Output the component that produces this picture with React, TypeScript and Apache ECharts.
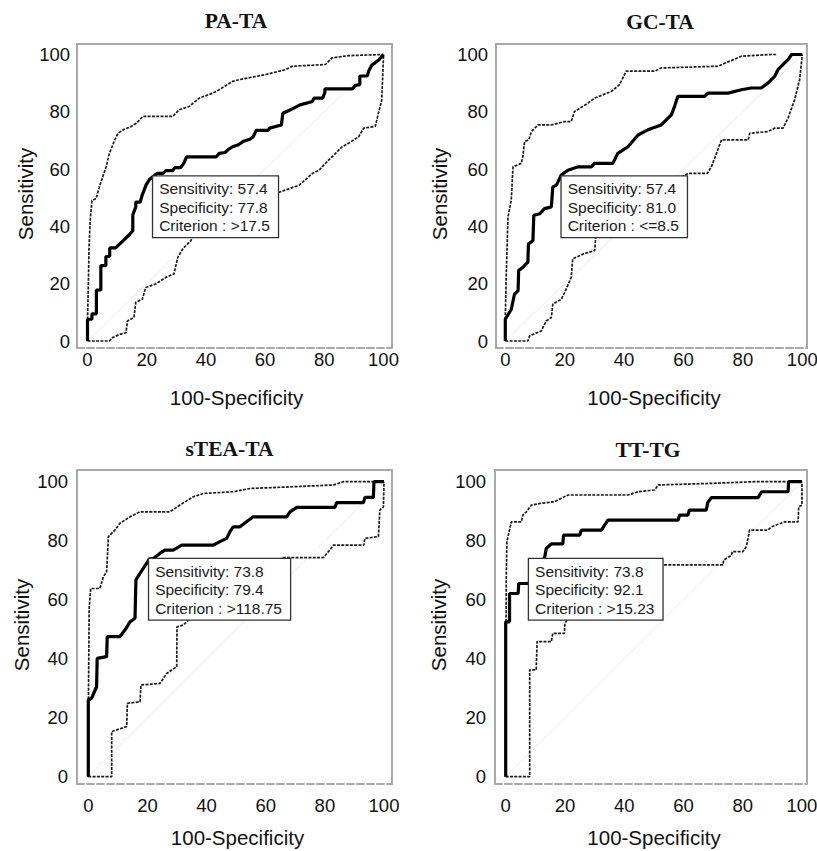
import React, { useEffect, useRef } from 'react';
import * as echarts from 'echarts';

// ---------- data ----------
const tickValues = [0, 20, 40, 60, 80, 100];
const panelTitles = ['PA-TA', 'GC-TA', 'sTEA-TA', 'TT-TG'];
const xAxisTitle = '100-Specificity';
const yAxisTitle = 'Sensitivity';

const criterionSensitivity = [57.4, 57.4, 73.8, 73.8];
const criterionSpecificity = [77.8, 81.0, 79.4, 92.1];
const criterionValue = ['>17.5', '<=8.5', '>118.75', '>15.23'];

const diagonal = [[0, 0], [100, 100]];

const paTaMain = [[0,0],[0,7.6],[1.5,7.6],[1.5,9.5],[3,9.5],[3,17.8],[4.5,17.8],[4.5,26.3],[6.2,26.3],[6.2,29.5],[7.5,29.5],[7.5,32.5],[9.5,32.5],[11,34],[12.5,35.5],[14,37],[15.3,38.5],[15.3,44],[16.3,46.8],[16.3,48.5],[17.8,48.5],[18.5,51],[19.8,54.5],[21,56.5],[22.2,57.4],[23.5,58.5],[25.5,58.5],[26.5,59.5],[28.8,59.5],[29.5,60.5],[31.5,60.5],[32.5,62],[33.5,64.3],[43.5,64.3],[44.5,65.5],[46.5,65.8],[47.5,66.8],[49,67.8],[51,68.5],[52.5,69.6],[55,70.5],[56,71.3],[57,73.5],[61,73.5],[61.5,74.3],[65.5,75.4],[66,79.5],[68.4,80.6],[71.8,82.4],[76,83.6],[76.5,84.8],[79.5,84.8],[80.2,86.8],[80.2,88],[89.5,88],[90.5,89.2],[92,89.5],[92,92.5],[94.5,92.5],[95,94.2],[96,96.2],[98.5,98.2],[100,100]];
const paTaUpper = [[0,0],[0,8],[0.3,20],[0.5,32],[0.9,42],[1.5,49],[2.9,49.7],[4,53.8],[6.3,60.8],[7.4,65.5],[9.2,70.2],[10.3,72.5],[12,73.7],[14.8,74.9],[16.5,76],[18.7,78.4],[28.8,78.4],[31,80.7],[34.4,81.9],[37.8,84.8],[42.3,86.5],[44.5,87.7],[49,90.6],[51.2,91.2],[60.2,93],[66.9,94.7],[69.2,95.9],[80.4,96.5],[82.6,98.8],[88.2,99.6],[100,100]];
const paTaLower = [[0,0],[7.4,0],[8.5,1.2],[10.8,2.3],[13,2.9],[13.5,7],[15.7,8.2],[16.3,13.5],[18.5,14.6],[19.7,18.7],[23,19.9],[26.5,22.2],[29.2,23.4],[30.5,29.2],[32.2,32.2],[35,35.1],[35.5,38.6],[36.7,42.7],[40,45],[44.5,46.8],[49,49.1],[58,49.7],[63.7,51.5],[68.2,53.2],[71.5,54.4],[76,58.5],[78.2,59.6],[81.5,63.2],[83.8,65.5],[86,67.8],[88.2,69],[91.6,71.3],[93.3,74.3],[97.2,74.9],[98.3,79.5],[99.4,84],[100,99.4],[100,100]];

const gcTaMain = [[0,0],[0,7.6],[2,11],[3.1,16.4],[4.3,17.5],[4.5,24.6],[5.9,25.7],[7.6,27.5],[7.8,33.9],[9.3,35],[9.6,43.9],[11.6,44.4],[13.2,46.2],[15.5,46.8],[16,53.8],[17.2,54.4],[18.9,58],[21.1,59.6],[24.5,60.8],[29,60.8],[30,62],[36.2,62],[37.9,65.5],[41.3,67.8],[44.7,71.9],[48,73.7],[52.5,75.4],[55.9,78.9],[57,81.9],[58.1,85.4],[67.1,85.4],[68.2,86.5],[75,86.5],[79.5,87.7],[82.8,88.3],[86.2,88.3],[88.4,90],[90.7,92.4],[91.8,94.7],[93.5,96.5],[95.2,98.2],[96.4,100],[100,100]];
const gcTaUpper = [[0,0],[0,8],[0.3,22.2],[0.9,43.3],[2,49.1],[2.6,60.8],[5.4,62],[5.9,64.3],[6.5,69.6],[7.9,70.2],[8.8,73.1],[11,75.4],[15.5,75.4],[20,76.6],[22.2,76.6],[23.3,80.1],[27.8,83],[30.1,84.8],[35.7,87.1],[38.5,89.5],[40.7,94.2],[50.3,94.2],[52.5,95.3],[71.6,95.9],[79.5,99.4],[89.6,100],[91.2,100]];
const gcTaLower = [[0,0],[7.6,0],[8.2,1.8],[12.1,3.5],[13.8,7],[15.5,8.2],[16,12.9],[18.9,14.6],[20.5,18.1],[22.2,22.2],[22.7,28.7],[26.3,30.4],[30.1,31.6],[30.6,38.6],[33,45],[38,50],[45,54],[50,55.5],[55,56.5],[60,57.5],[61.5,58.5],[68,58.5],[69.4,60.8],[72.8,70.2],[81.8,70.2],[82.3,72.5],[88.4,73.1],[90.7,74.3],[93.5,74.3],[95.2,77.8],[97.4,84.2],[99.1,91.2],[100,100]];

const steaTaMain = [[0,0],[0,26],[1.1,26.6],[2.8,30.5],[3,40.1],[6.2,40.7],[6.4,47.5],[10.7,47.5],[12.4,49.7],[14.1,52.5],[15.8,53.7],[16.1,66.7],[17.5,68.9],[19.7,72.3],[20.6,73.8],[22,74],[24.2,75.7],[25.9,76.8],[28.7,76.8],[31.6,78.5],[42.3,78.5],[44.5,79.7],[46.8,80.8],[47.9,83.1],[49,84.7],[51.3,84.7],[53.5,86.4],[55.8,88.1],[67.1,88.1],[68.2,89.8],[70.5,91.3],[83.4,91.3],[84,92.9],[93,92.9],[93.6,94.7],[96.4,94.7],[96.6,100],[100,100]];
const steaTaUpper = [[0,0],[0,20],[0.3,57],[0.8,63.8],[3.9,63.8],[5.1,67.8],[6.2,69.5],[6.8,81.4],[9,83.6],[10.7,85.9],[14.1,88.1],[17.5,89.8],[27.6,89.8],[31,92.1],[35.5,94.9],[38.9,96],[49,96.6],[54.7,97.7],[69.3,98.3],[82.9,98.9],[86.2,100],[100,100]];
const steaTaLower = [[0,0],[7.9,0],[7.9,15.3],[13,17],[13.2,24.9],[17.5,25.4],[17.8,31.1],[24.2,31.6],[26.5,35],[29.9,37.3],[30,50.8],[32.1,51.4],[38,57],[45,63],[55,70],[60,72],[64,73.5],[66,74.3],[79.5,74.3],[81.2,76.3],[82.9,78.5],[93.2,78.5],[93.5,80.8],[98.1,81.4],[98.6,90.4],[99.8,91.5],[100,100]];

const ttTgMain = [[0,0],[0,52.5],[1.3,52.5],[1.3,62.1],[4.2,62.1],[4.4,65.5],[7.5,65.5],[9.5,67],[11,70],[12.5,73],[13.2,74.6],[13.7,77.4],[15.4,78.9],[19.3,78.9],[19.5,81.9],[25,81.9],[25.5,83.6],[32.3,83.6],[33.4,85.3],[34.5,87],[58.2,87],[58.7,88.7],[61.5,88.7],[62,90.4],[67.7,90.4],[68.2,92.9],[69.4,94.6],[85.2,94.6],[86.4,96.6],[95.3,96.6],[95.5,100],[100,100]];
const ttTgUpper = [[0,0],[0,20],[0.2,67.8],[0.4,79.7],[1.9,86.4],[5.3,86.4],[5.8,88.7],[7,89.8],[8.7,92.1],[12,92.7],[16.5,93.2],[18.8,94.4],[21.1,95.5],[41.3,95.5],[44.7,96.6],[50.3,97.2],[51.5,98.9],[68.3,99.4],[84.1,100],[100,100]];
const ttTgLower = [[0,0],[8.1,0],[8.1,36.2],[10.3,36.2],[10.6,45.8],[15.4,45.8],[15.9,48.6],[19.8,48.6],[20,52],[24,58],[28,64],[32,68],[36,70.5],[40,71.8],[73.3,71.8],[73.6,73.4],[76.2,75.1],[76.5,76.3],[80.1,76.3],[81.2,78],[81.8,80.8],[82.3,83.6],[88.5,83.6],[89.7,84.7],[94.2,86.4],[98.7,86.4],[98.9,91.5],[100,92],[100,100]];

const mainCurves = [paTaMain, gcTaMain, steaTaMain, ttTgMain];
const upperCurves = [paTaUpper, gcTaUpper, steaTaUpper, ttTgUpper];
const lowerCurves = [paTaLower, gcTaLower, steaTaLower, ttTgLower];

// ---------- layout ----------
const layouts = [
  { box: [77, 44, 392, 348], x: [-3.55, 102.87], y: [-2.44, 103.66], xm: 2, ym: 7, title: [236, 21], xName: [236.5, 397], yName: [25, 194] },
  { box: [496, 44, 807, 348], x: [-3.13, 101.58], y: [-2.44, 103.66], xm: 2, ym: 8, title: [660, 22], xName: [654, 397], yName: [439, 194] },
  { box: [77, 470, 392, 784], x: [-3.82, 102.7], y: [-2.47, 103.97], xm: 12, ym: 9, title: [229.5, 449], xName: [237.5, 837], yName: [21.5, 625] },
  { box: [495, 470, 807, 784], x: [-3.61, 101.7], y: [-2.47, 103.97], xm: 12, ym: 9, title: [648, 450], xName: [654, 837], yName: [438, 625] },
];

const SANS = 'Liberation Sans, Arial, sans-serif';
const SERIF = 'Liberation Serif, Times New Roman, serif';
const BORDER = '#a9a9a9';

function buildOption() {
  const grid: any[] = [];
  const xAxis: any[] = [];
  const yAxis: any[] = [];
  const series: any[] = [];
  const graphic: any[] = [];

  layouts.forEach((L, i) => {
    const [l, t, r, b] = L.box;
    grid.push({ left: l, top: t, width: r - l, height: b - t, containLabel: false, outerBoundsMode: 'none' });
    const labelStyle = { fontSize: 18.5, color: '#111', fontFamily: SANS };
    xAxis.push({
      gridIndex: i, type: 'value', position: 'bottom', min: L.x[0], max: L.x[1],
      axisLine: { show: true, onZero: false, lineStyle: { color: BORDER, width: 2, type: [7, 3] } },
      axisTick: { show: false }, splitLine: { show: false },
      axisLabel: { ...labelStyle, margin: L.xm, customValues: tickValues },
    });
    xAxis.push({
      gridIndex: i, type: 'value', position: 'top', min: L.x[0], max: L.x[1],
      axisLine: { show: true, onZero: false, lineStyle: { color: BORDER, width: 2 } },
      axisTick: { show: false }, splitLine: { show: false }, axisLabel: { show: false },
    });
    yAxis.push({
      gridIndex: i, type: 'value', position: 'left', min: L.y[0], max: L.y[1],
      axisLine: { show: true, onZero: false, lineStyle: { color: BORDER, width: 2 } },
      axisTick: { show: false }, splitLine: { show: false },
      axisLabel: { ...labelStyle, margin: L.ym, customValues: tickValues },
    });
    yAxis.push({
      gridIndex: i, type: 'value', position: 'right', min: L.y[0], max: L.y[1],
      axisLine: { show: true, onZero: false, lineStyle: { color: BORDER, width: 2 } },
      axisTick: { show: false }, splitLine: { show: false }, axisLabel: { show: false },
    });
    const xi = i * 2;
    const yi = i * 2;
    series.push({
      type: 'line', xAxisIndex: xi, yAxisIndex: yi, data: diagonal, symbol: 'none', z: 1,
      lineStyle: { color: '#ececec', width: 1 }, silent: true,
    });
    series.push({
      type: 'line', xAxisIndex: xi, yAxisIndex: yi, data: upperCurves[i], symbol: 'none', z: 2,
      lineStyle: { color: '#1a1a1a', width: 1.7, type: [3, 1.3] }, silent: true,
    });
    series.push({
      type: 'line', xAxisIndex: xi, yAxisIndex: yi, data: lowerCurves[i], symbol: 'none', z: 2,
      lineStyle: { color: '#1a1a1a', width: 1.7, type: [3, 1.3] }, silent: true,
    });
    series.push({
      type: 'line', xAxisIndex: xi, yAxisIndex: yi, data: mainCurves[i], symbol: 'none', z: 3,
      lineStyle: { color: '#000', width: 3.2 }, silent: true,
    });
    const sens = criterionSensitivity[i];
    const spec = criterionSpecificity[i];
    series.push({
      type: 'scatter', xAxisIndex: xi, yAxisIndex: yi, z: 10, silent: true,
      data: [[+(100 - spec).toFixed(1), sens]],
      symbol: 'circle', symbolSize: 0.1, itemStyle: { color: 'rgba(0,0,0,0)', opacity: 1 },
      label: {
        show: true, position: [0, 0], align: 'left', verticalAlign: 'top', opacity: 1,
        formatter: `Sensitivity: ${sens.toFixed(1)}\nSpecificity: ${spec.toFixed(1)}\nCriterion : ${criterionValue[i]}`,
        fontSize: 15.5, fontFamily: SANS, color: '#1a1a1a', lineHeight: 18.5,
        textBorderWidth: 0,
        backgroundColor: '#fff', borderColor: '#333', borderWidth: 1.3, padding: [3, 8, 2, 6],
      },
    });

    graphic.push({
      type: 'text', x: L.title[0], y: L.title[1], silent: true,
      style: { text: panelTitles[i], fontSize: 21.5, fontWeight: 'bold', fontFamily: SERIF, fill: '#111', align: 'center', verticalAlign: 'middle', textAlign: 'center', textVerticalAlign: 'middle' },
    });
    graphic.push({
      type: 'text', x: L.xName[0], y: L.xName[1], silent: true,
      style: { text: xAxisTitle, fontSize: 20.5, fontFamily: SANS, fill: '#111', align: 'center', verticalAlign: 'middle', textAlign: 'center', textVerticalAlign: 'middle' },
    });
    graphic.push({
      type: 'text', x: L.yName[0], y: L.yName[1], rotation: Math.PI / 2, silent: true,
      style: { text: yAxisTitle, fontSize: 20.5, fontFamily: SANS, fill: '#111', align: 'center', verticalAlign: 'middle', textAlign: 'center', textVerticalAlign: 'middle' },
    });
  });

  return { animation: false, backgroundColor: '#fff', grid, xAxis, yAxis, series, graphic };
}

export default function App() {
  const ref = useRef<HTMLDivElement>(null);
  useEffect(() => {
    if (!ref.current) return;
    const chart = echarts.init(ref.current, undefined, { renderer: 'svg' });
    chart.setOption(buildOption() as any);
    return () => chart.dispose();
  }, []);
  return <div ref={ref} style={{ position: 'fixed', left: 0, top: 0, width: 817, height: 851, background: '#fff' }} />;
}
